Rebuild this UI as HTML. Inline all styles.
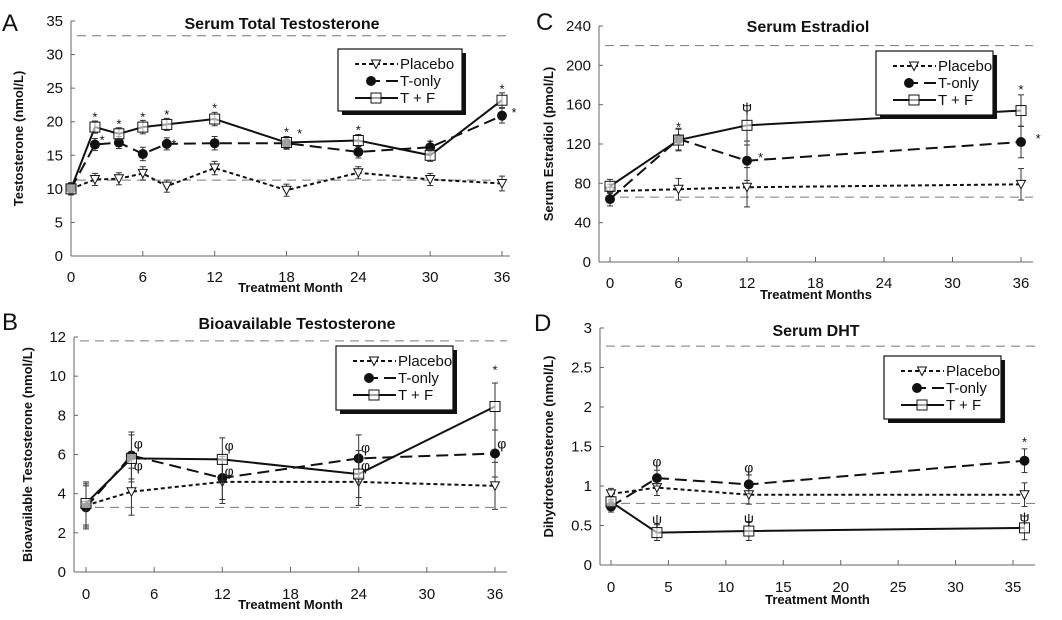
<!DOCTYPE html>
<html><head><meta charset="utf-8"><style>
body{margin:0;background:#fff;}
svg text{font-family:"Liberation Sans",Arial,sans-serif;fill:#111;}
</style></head><body>
<svg id="fig" width="1062" height="615" viewBox="0 0 1062 615" xmlns="http://www.w3.org/2000/svg"></svg>
<script>
// ---------- Panel A data ----------
const monthsA = [0,2,4,6,8,12,18,24,30,36];
const placeboA = [10,11.4,11.5,12.3,10.4,13.1,9.8,12.4,11.4,10.8];
const tonlyA = [10,16.6,16.9,15.2,16.7,16.8,16.8,15.5,16.2,20.9];
const tfA = [10,19.2,18.2,19.2,19.6,20.4,16.9,17.2,15.0,23.2];
const errA = [0.9,0.9,0.9,1.0,0.9,1.0,0.9,0.9,0.9,1.1];
const yTicksA = [0,5,10,15,20,25,30,35];
const xTicksA = [0,6,12,18,24,30,36];
const refA = [32.8,11.3];
// ---------- Panel B data ----------
const monthsB = [0,4,12,24,36];
const placeboB = [3.4,4.1,4.6,4.6,4.4];
const tonlyB = [3.3,5.95,4.8,5.8,6.05];
const tfB = [3.5,5.8,5.75,5.0,8.45];
const errB = [1.1,1.2,1.1,1.2,1.2];
const yTicksB = [0,2,4,6,8,10,12];
const xTicksB = [0,6,12,18,24,30,36];
const refB = [11.8,3.3];
// ---------- Panel C data ----------
const monthsC = [0,6,12,36];
const placeboC = [72,74,76,79];
const tonlyC = [64,125,103,122];
const tfC = [77,124,139,154];
const errC = [7,11,20,16];
const yTicksC = [0,40,80,120,160,200,240];
const xTicksC = [0,6,12,18,24,30,36];
const refC = [220,66];
// ---------- Panel D data ----------
const monthsD = [0,4,12,36];
const placeboD = [0.9,0.98,0.89,0.89];
const tonlyD = [0.74,1.1,1.02,1.32];
const tfD = [0.8,0.41,0.43,0.47];
const errD = [0.07,0.1,0.12,0.15];
const yTicksD = [0,0.5,1,1.5,2,2.5,3];
const xTicksD = [0,5,10,15,20,25,30,35];
const refD = [2.77,0.78];
// annotations: [month, value, symbol]
const annA = [[2,20.6,'*'],[4,19.6,'*'],[6,20.6,'*'],[8,21,'*'],[12,22,'*'],[18,18.4,'*'],[24,18.7,'*'],[30,16.6,'*'],[36,24.8,'*'],[2.6,17.2,'*'],[8.6,16.6,'*'],[19.1,18.2,'*'],[37,21.3,'*']];
const annB = [[4.6,6.5,'φ'],[4.6,5.4,'φ'],[12.6,6.4,'φ'],[12.6,5.1,'φ'],[24.6,6.3,'φ'],[24.6,5.4,'φ'],[36.6,6.5,'φ'],[36,10.3,'*']];
const annC = [[6,137,'*'],[12,157,'ψ'],[13.2,106,'*'],[36,175,'*'],[37.5,125,'*']];
const annD = [[4,1.3,'φ'],[12,1.22,'φ'],[4,0.57,'ψ'],[12,0.58,'ψ'],[36,0.6,'ψ'],[36,1.55,'*']];

const NS='http://www.w3.org/2000/svg';
const svg=document.getElementById('fig');
function mk(tag,attrs,parent){const e=document.createElementNS(NS,tag);for(const k in attrs)e.setAttribute(k,attrs[k]);(parent||svg).appendChild(e);return e;}

function panel(p){
  const g=mk('g',{});
  
  
  const sx=v=>p.x0+(v-p.xmin)*(p.x1-p.x0)/(p.xmax-p.xmin);
  const sy=v=>p.y0+(v-p.ymin)*(p.y1-p.y0)/(p.ymax-p.ymin);
  const ax=mk('line',{x1:p.ax,y1:sy(p.ymin),x2:p.ax,y2:sy(p.ymax),stroke:'#666','stroke-width':1},g);
  
  const xa=mk('line',{x1:p.ax,y1:sy(p.ymin),x2:p.axEnd,y2:sy(p.ymin),stroke:'#666','stroke-width':1},g);
  
  p.yt.forEach(v=>{
    mk('line',{x1:p.ax,y1:sy(v),x2:p.ax+4,y2:sy(v),stroke:'#666'},g);
    const t=mk('text',{x:p.ax-8,y:sy(v)+5,'text-anchor':'end','font-size':15},g);t.textContent=v;
    
  });
  p.xt.forEach(v=>{
    mk('line',{x1:sx(v),y1:sy(p.ymin),x2:sx(v),y2:sy(p.ymin)-5,stroke:'#666'},g);
    const t=mk('text',{x:sx(v),y:p.xtY,'text-anchor':'middle','font-size':15},g);t.textContent=v;
    
  });
  p.ref.forEach(v=>{
    const l=mk('line',{x1:p.ax+6,y1:sy(v),x2:p.axEnd,y2:sy(v),stroke:'#777','stroke-width':1,'stroke-dasharray':'9,6'},g);
    
  });
  let t=mk('text',{x:p.tx,y:p.ty,'text-anchor':'middle','font-size':16,'font-weight':'bold'},g);t.textContent=p.title;
  
  t=mk('text',{x:p.letterX,y:p.letterY,'font-size':24},g);t.textContent=p.id;
  
  t=mk('text',{x:(p.ax+p.axEnd)/2,y:p.xlY,'text-anchor':'middle','font-size':13,'font-weight':'bold'},g);t.textContent=p.xl;
  
  const yc=(sy(p.ymin)+sy(p.ymax))/2;
  t=mk('text',{x:p.ylX,y:yc,'text-anchor':'middle','font-size':13,'font-weight':'bold',transform:`rotate(-90 ${p.ylX} ${yc})`},g);t.textContent=p.yl;
  
  const series=[
    {name:'placebo',vals:p.pl,dash:'4,3',w:2,m:'tri'},
    {name:'t-only',vals:p.to,dash:'12,6',w:2,m:'dot'},
    {name:'t-plus-f',vals:p.tf,dash:'',w:2,m:'sq'}];
  series.forEach(s=>{
    const pts=p.months.map((m,i)=>sx(m)+','+sy(s.vals[i])).join(' ');
    const pl=mk('polyline',{points:pts,fill:'none',stroke:'#111','stroke-width':s.w,'stroke-dasharray':s.dash},g);
    
    p.months.forEach((m,i)=>{
      const x=sx(m),y=sy(s.vals[i]),e=Math.abs(sy(p.err[i])-sy(0));
      mk('line',{x1:x,y1:y-e,x2:x,y2:y+e,stroke:'#333','stroke-width':1},g);
      mk('line',{x1:x-3,y1:y-e,x2:x+3,y2:y-e,stroke:'#333'},g);
      mk('line',{x1:x-3,y1:y+e,x2:x+3,y2:y+e,stroke:'#333'},g);
      marker(g,s.m,x,y,'point-'+s.name);
    });
  });
  p.ann.forEach(a=>{
    const t=mk('text',{x:sx(a[0]),y:sy(a[1])+4,'text-anchor':'middle','font-size':a[2]=='*'?13:14},g);t.textContent=a[2];
    
  });
  const L=p.leg, lg=mk('g',{},g);
  
  mk('rect',{x:L[0]+4,y:L[1]+4,width:L[2],height:L[3],fill:'#111'},lg);
  mk('rect',{x:L[0],y:L[1],width:L[2],height:L[3],fill:'#fff',stroke:'#111','stroke-width':1.2},lg);
  const labels=['Placebo','T-only','T + F'];
  series.forEach((s,i)=>{
    const y=L[1]+15+i*17;
    const e=mk('g',{},lg);
    
    mk('line',{x1:L[0]+(i==1?30:17),y1:y,x2:L[0]+60,y2:y,stroke:'#111','stroke-width':2,'stroke-dasharray':s.dash},e);
    marker(e,s.m,L[0]+(i==1?33:38),y,'legend-marker');
    const tt=mk('text',{x:L[0]+62,y:y+5,'font-size':15},e);tt.textContent=labels[i];
  });
}
function marker(g,m,x,y,name){
  let el;
  if(m=='tri')el=mk('polygon',{points:`${x-4.5},${y-4} ${x+4.5},${y-4} ${x},${y+4.5}`,fill:'#fff',stroke:'#111','stroke-width':1},g);
  else if(m=='dot')el=mk('circle',{cx:x,cy:y,r:5,fill:'#111'},g);
  else el=mk('rect',{x:x-5,y:y-5,width:10,height:10,fill:'#fff','fill-opacity':0.6,stroke:'#111','stroke-width':1},g);
  
}
panel({id:'A',title:'Serum Total Testosterone',months:monthsA,pl:placeboA,to:tonlyA,tf:tfA,err:errA,yt:yTicksA,xt:xTicksA,ref:refA,ann:annA,
  xmin:0,xmax:36,ymin:0,ymax:35,x0:71,x1:502,y0:256,y1:21,ax:71,axEnd:510,xtY:282,xlY:292,ylX:23,
  xl:'Treatment Month',yl:'Testosterone (nmol/L)',tx:282,ty:29,letterX:2,letterY:31,leg:[338,49,124,62]});
panel({id:'B',title:'Bioavailable Testosterone',months:monthsB,pl:placeboB,to:tonlyB,tf:tfB,err:errB,yt:yTicksB,xt:xTicksB,ref:refB,ann:annB,
  xmin:0,xmax:36,ymin:0,ymax:12,x0:86,x1:495,y0:572,y1:337,ax:74,axEnd:507,xtY:599,xlY:609,ylX:32,
  xl:'Treatment Month',yl:'Bioavailable Testosterone (nmol/L)',tx:297,ty:329,letterX:2,letterY:330,leg:[336,346,117,64]});
panel({id:'C',title:'Serum Estradiol',months:monthsC,pl:placeboC,to:tonlyC,tf:tfC,err:errC,yt:yTicksC,xt:xTicksC,ref:refC,ann:annC,
  xmin:0,xmax:36,ymin:0,ymax:240,x0:610,x1:1021,y0:262,y1:26,ax:599,axEnd:1033,xtY:288,xlY:299,ylX:553,
  xl:'Treatment Months',yl:'Serum Estradiol (pmol/L)',tx:808,ty:32,letterX:536,letterY:30,leg:[876,51,117,64]});
panel({id:'D',title:'Serum DHT',months:monthsD,pl:placeboD,to:tonlyD,tf:tfD,err:errD,yt:yTicksD,xt:xTicksD,ref:refD,ann:annD,
  xmin:0,xmax:35,ymin:0,ymax:3,x0:611,x1:1013,y0:565,y1:328,ax:600,axEnd:1035,xtY:592,xlY:604,ylX:553,
  xl:'Treatment Month',yl:'Dihydrotestosterone (nmol/L)',tx:816,ty:336,letterX:534,letterY:331,leg:[884,356,117,63]});
</script>
</body></html>
